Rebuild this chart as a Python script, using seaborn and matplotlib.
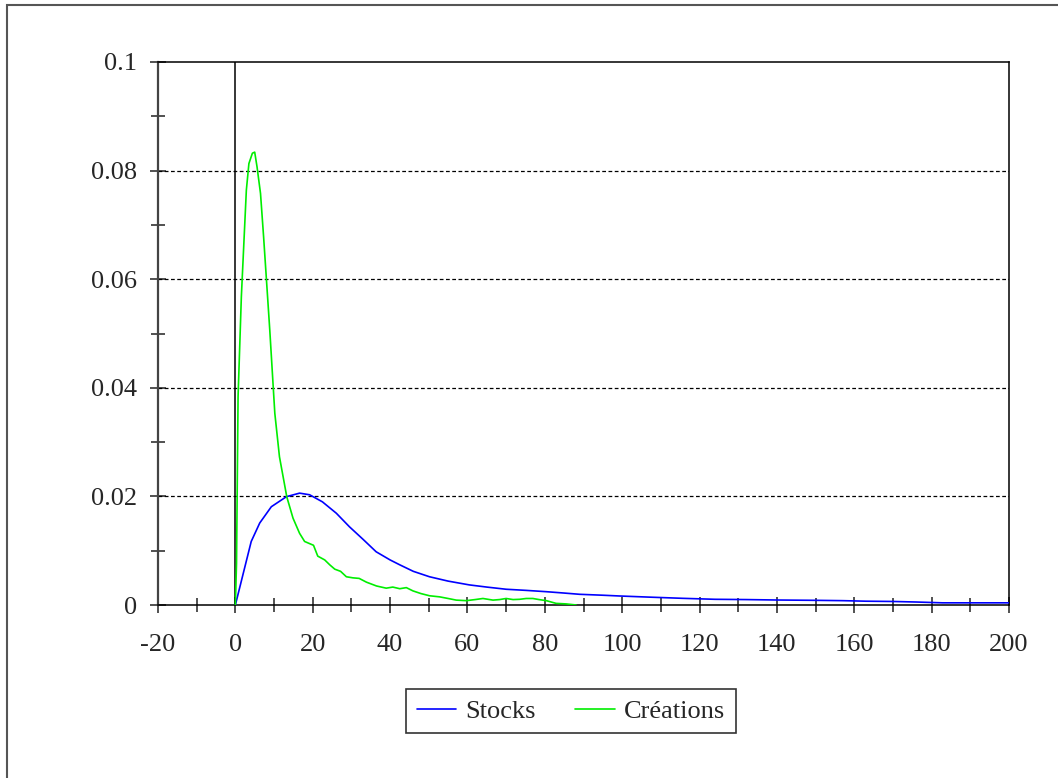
import numpy as np
import pandas as pd
import matplotlib
matplotlib.use("Agg")
import matplotlib.pyplot as plt
import seaborn as sns
from matplotlib.patches import Rectangle

# Data
stocks_x = [0, 4.1, 6.3, 9.3, 13.2, 16.6, 19.2, 22.5, 26.1, 29.5, 33, 36.4, 40, 42.5, 46, 50.2,
            55, 60.5, 65, 70, 75, 80.4, 85, 89, 95, 99.3, 107, 115.6, 124, 132, 139.8,
            150, 157, 163, 170, 176, 182.8, 190, 200]
stocks_y = [0, 0.0117, 0.0151, 0.0181, 0.01995, 0.0206, 0.0203, 0.0190, 0.0169, 0.0144, 0.0121,
            0.0098, 0.0083, 0.0074, 0.0062, 0.0052, 0.0044, 0.0037, 0.0033, 0.0029, 0.0027,
            0.00245, 0.0022, 0.00197, 0.0018, 0.00166, 0.00145, 0.00123, 0.00105, 0.001, 0.00092,
            0.00086, 0.0008, 0.0007, 0.00065, 0.00055, 0.0004, 0.0004, 0.0004]

creations_x = [0, 0.3, 0.7, 1.55, 2.84, 3.5, 4.4, 5.0, 5.6, 6.5, 7.3, 8.9, 10.2, 11.4, 13.3,
               14.9, 16.6, 17.9, 19.2, 20.2, 21.3, 23.1, 24.4, 25.7, 27.2, 28.7, 30.4, 32,
               33.9, 36.5, 39, 40.7, 42.5, 44.2, 45.9, 48, 50.2, 52.8, 55, 57.1, 59.7, 62,
               64, 66.6, 68.3, 70, 71.8, 73.5, 75.2, 76.9, 78.5, 80.4, 82.9, 85.5, 88.1]
creations_y = [0, 0.0077, 0.0384, 0.0568, 0.0764, 0.0813, 0.0832, 0.0834, 0.0807, 0.0758, 0.0678,
               0.0506, 0.0353, 0.0273, 0.0199, 0.0160, 0.0132, 0.0117, 0.0113, 0.0110, 0.0090,
               0.0083, 0.0074, 0.0066, 0.0062, 0.0052, 0.0050, 0.0049, 0.0042, 0.0035, 0.0031,
               0.0033, 0.0030, 0.0032, 0.0026, 0.0021, 0.0017, 0.0015, 0.0012, 0.0009, 0.0008,
               0.0010, 0.0012, 0.0009, 0.0010, 0.0012, 0.0010, 0.00105, 0.0012, 0.0012, 0.0010,
               0.0008, 0.0003, 0.0002, 0.0]

x_ticks = list(range(-20, 201, 20))
y_ticks = [0, 0.02, 0.04, 0.06, 0.08, 0.1]
y_labels = ["0", "0.02", "0.04", "0.06", "0.08", "0.1"]

df = pd.concat([
    pd.DataFrame({"x": stocks_x, "y": stocks_y, "serie": "Stocks"}),
    pd.DataFrame({"x": creations_x, "y": creations_y, "serie": "Créations"}),
])

sns.set_style("white")
plt.rcParams["font.family"] = ["Liberation Serif", "DejaVu Serif"]

fig = plt.figure(figsize=(10.58, 7.78), dpi=100)
ax = fig.add_axes([158 / 1058, 1 - 605 / 778, (1009 - 158) / 1058, (605 - 62) / 778])

# frame around the whole picture (only left and top edges are visible in the reference)
fig.add_artist(Rectangle((7 / 1058, -0.05), 1.2, 1 - 5 / 778 + 0.05, transform=fig.transFigure,
                         fill=False, edgecolor="#555555", linewidth=1.5))

# dashed gridlines
for yv in y_ticks[1:-1]:
    ax.axhline(yv, color="black", lw=0.9, ls=(0, (3, 2)), zorder=1)
# vertical line at x=0
ax.axvline(0, color="black", lw=1.1, zorder=1)

sns.lineplot(data=df, x="x", y="y", hue="serie", palette={"Stocks": "#0000ff", "Créations": "#00ee00"},
             ax=ax, linewidth=1.2, sort=False, estimator=None, legend=False, zorder=3)

ax.set_xlim(-20, 200)
ax.set_ylim(0, 0.1)
ax.set_xlabel("")
ax.set_ylabel("")

ax.set_xticks(x_ticks)
ax.set_xticklabels([str(v) for v in x_ticks])
ax.set_xticks(list(range(-10, 200, 20)), minor=True)
ax.set_yticks(y_ticks)
ax.set_yticklabels(y_labels)
ax.set_yticks([0.01, 0.03, 0.05, 0.07, 0.09], minor=True)

ax.tick_params(axis="both", which="both", bottom=True, left=True, top=False, right=False)
ax.tick_params(axis="both", which="major", direction="inout", length=12, width=1.2,
               labelsize=19, color="#333333")
ax.tick_params(axis="both", which="minor", direction="inout", length=10, width=1.2, color="#333333")
ax.tick_params(axis="x", which="major", pad=15)
ax.tick_params(axis="y", which="major", pad=9)

for side in ["left", "right", "top", "bottom"]:
    ax.spines[side].set_visible(True)
    ax.spines[side].set_color("black")
    ax.spines[side].set_linewidth(1.1)
ax.spines["left"].set_color("#444444")
ax.spines["left"].set_linewidth(1.6)

# legend below the plot
handles = [plt.Line2D([], [], color="#0000ff", lw=1.2), plt.Line2D([], [], color="#00ee00", lw=1.2)]
leg = fig.legend(handles, ["Stocks", "Créations"], loc="center", bbox_to_anchor=(571 / 1058, 1 - 711 / 778),
                 ncol=2, frameon=True, fancybox=False, fontsize=19, handlelength=1.5,
                 columnspacing=1.5, borderpad=0.4, handletextpad=0.35)
leg.get_frame().set_edgecolor("black")
leg.get_frame().set_linewidth(1.2)

fig.savefig("out.png", dpi=100)
